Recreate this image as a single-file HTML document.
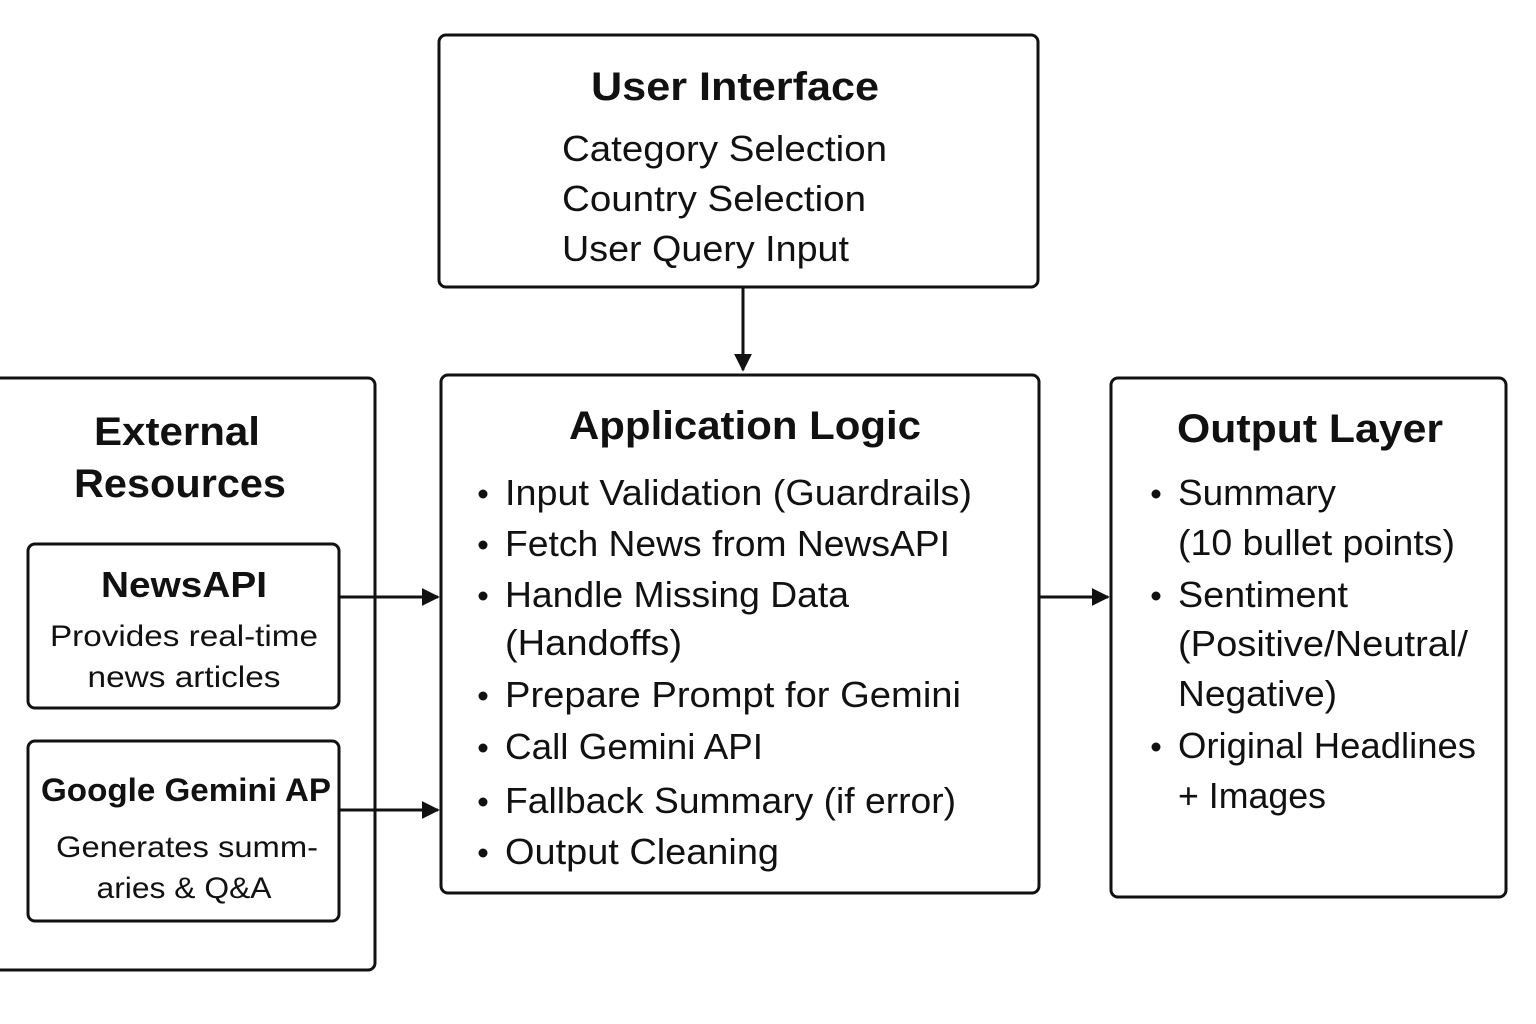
<!DOCTYPE html>
<html><head><meta charset="utf-8"><style>
html,body{margin:0;padding:0;background:#fff;}
svg{display:block;}
text{font-family:"Liberation Sans",sans-serif;fill:#111;}
.b{font-weight:bold;}
</style></head><body>
<svg width="1536" height="1024" viewBox="0 0 1536 1024" xmlns="http://www.w3.org/2000/svg">
<defs>
<marker id="a" viewBox="0 0 10 10" refX="9" refY="5" markerWidth="6" markerHeight="6" orient="auto"><path d="M0,0 L10,5 L0,10 z" fill="#111"/></marker>
</defs>
<g fill="none" stroke="#111" stroke-width="3">
<rect x="439" y="35" width="599" height="252" rx="7"/>
<rect x="441" y="375" width="598" height="518" rx="7"/>
<rect x="1111" y="378" width="395" height="519" rx="7"/>
<rect x="-10" y="378" width="385" height="592" rx="7"/>
<rect x="28" y="544" width="311" height="164" rx="7"/>
<rect x="28" y="741" width="311" height="180" rx="7"/>
<line x1="743" y1="287" x2="743" y2="370" marker-end="url(#a)"/>
<line x1="339" y1="597" x2="438" y2="597" marker-end="url(#a)"/>
<line x1="339" y1="810" x2="438" y2="810" marker-end="url(#a)"/>
<line x1="1039" y1="597" x2="1108" y2="597" marker-end="url(#a)"/>
</g>
<g font-size="40">
<text class="b" x="735" y="100" text-anchor="middle" textLength="288" lengthAdjust="spacingAndGlyphs">User Interface</text>
<text class="b" x="745" y="439" text-anchor="middle" textLength="352" lengthAdjust="spacingAndGlyphs">Application Logic</text>
<text class="b" x="1310" y="442" text-anchor="middle" textLength="266" lengthAdjust="spacingAndGlyphs">Output Layer</text>
<text class="b" x="177" y="445" text-anchor="middle" textLength="166" lengthAdjust="spacingAndGlyphs">External</text>
<text class="b" x="180" y="497" text-anchor="middle" textLength="212" lengthAdjust="spacingAndGlyphs">Resources</text>
</g>
<g font-size="36">
<text x="562" y="161" textLength="325" lengthAdjust="spacingAndGlyphs">Category Selection</text>
<text x="562" y="211" textLength="304" lengthAdjust="spacingAndGlyphs">Country Selection</text>
<text x="562" y="261" textLength="287" lengthAdjust="spacingAndGlyphs">User Query Input</text>
</g>
<g font-size="36">
<text x="505" y="505" textLength="467" lengthAdjust="spacingAndGlyphs">Input Validation (Guardrails)</text>
<text x="505" y="556" textLength="445" lengthAdjust="spacingAndGlyphs">Fetch News from NewsAPI</text>
<text x="505" y="607" textLength="344" lengthAdjust="spacingAndGlyphs">Handle Missing Data</text>
<text x="505" y="655" textLength="177" lengthAdjust="spacingAndGlyphs">(Handoffs)</text>
<text x="505" y="707" textLength="456" lengthAdjust="spacingAndGlyphs">Prepare Prompt for Gemini</text>
<text x="505" y="759" textLength="258" lengthAdjust="spacingAndGlyphs">Call Gemini API</text>
<text x="505" y="813" textLength="451" lengthAdjust="spacingAndGlyphs">Fallback Summary (if error)</text>
<text x="505" y="864" textLength="274" lengthAdjust="spacingAndGlyphs">Output Cleaning</text>
</g>
<g fill="#111">
<circle cx="483" cy="494" r="4.5"/><circle cx="483" cy="545" r="4.5"/><circle cx="483" cy="596" r="4.5"/>
<circle cx="483" cy="696" r="4.5"/><circle cx="483" cy="748" r="4.5"/><circle cx="483" cy="802" r="4.5"/><circle cx="483" cy="853" r="4.5"/>
<circle cx="1156" cy="494" r="4.5"/><circle cx="1156" cy="596" r="4.5"/><circle cx="1156" cy="747" r="4.5"/>
</g>
<g font-size="36">
<text x="1178" y="505" textLength="158" lengthAdjust="spacingAndGlyphs">Summary</text>
<text x="1178" y="555" textLength="277" lengthAdjust="spacingAndGlyphs">(10 bullet points)</text>
<text x="1178" y="607" textLength="170" lengthAdjust="spacingAndGlyphs">Sentiment</text>
<text x="1178" y="656" textLength="290" lengthAdjust="spacingAndGlyphs">(Positive/Neutral/</text>
<text x="1178" y="706" textLength="159" lengthAdjust="spacingAndGlyphs">Negative)</text>
<text x="1178" y="758" textLength="298" lengthAdjust="spacingAndGlyphs">Original Headlines</text>
<text x="1178" y="808" textLength="148" lengthAdjust="spacingAndGlyphs">+ Images</text>
</g>
<text class="b" x="184" y="597" font-size="36" text-anchor="middle" textLength="166" lengthAdjust="spacingAndGlyphs">NewsAPI</text>
<text x="184" y="646" font-size="30" text-anchor="middle" textLength="268" lengthAdjust="spacingAndGlyphs">Provides real-time</text>
<text x="184" y="687" font-size="30" text-anchor="middle" textLength="193" lengthAdjust="spacingAndGlyphs">news articles</text>
<text class="b" x="41" y="801" font-size="32" textLength="290" lengthAdjust="spacingAndGlyphs">Google Gemini AP</text>
<text x="187" y="857" font-size="30" text-anchor="middle" textLength="262" lengthAdjust="spacingAndGlyphs">Generates summ-</text>
<text x="184" y="898" font-size="30" text-anchor="middle" textLength="175" lengthAdjust="spacingAndGlyphs">aries &amp; Q&amp;A</text>
</svg>
</body></html>
